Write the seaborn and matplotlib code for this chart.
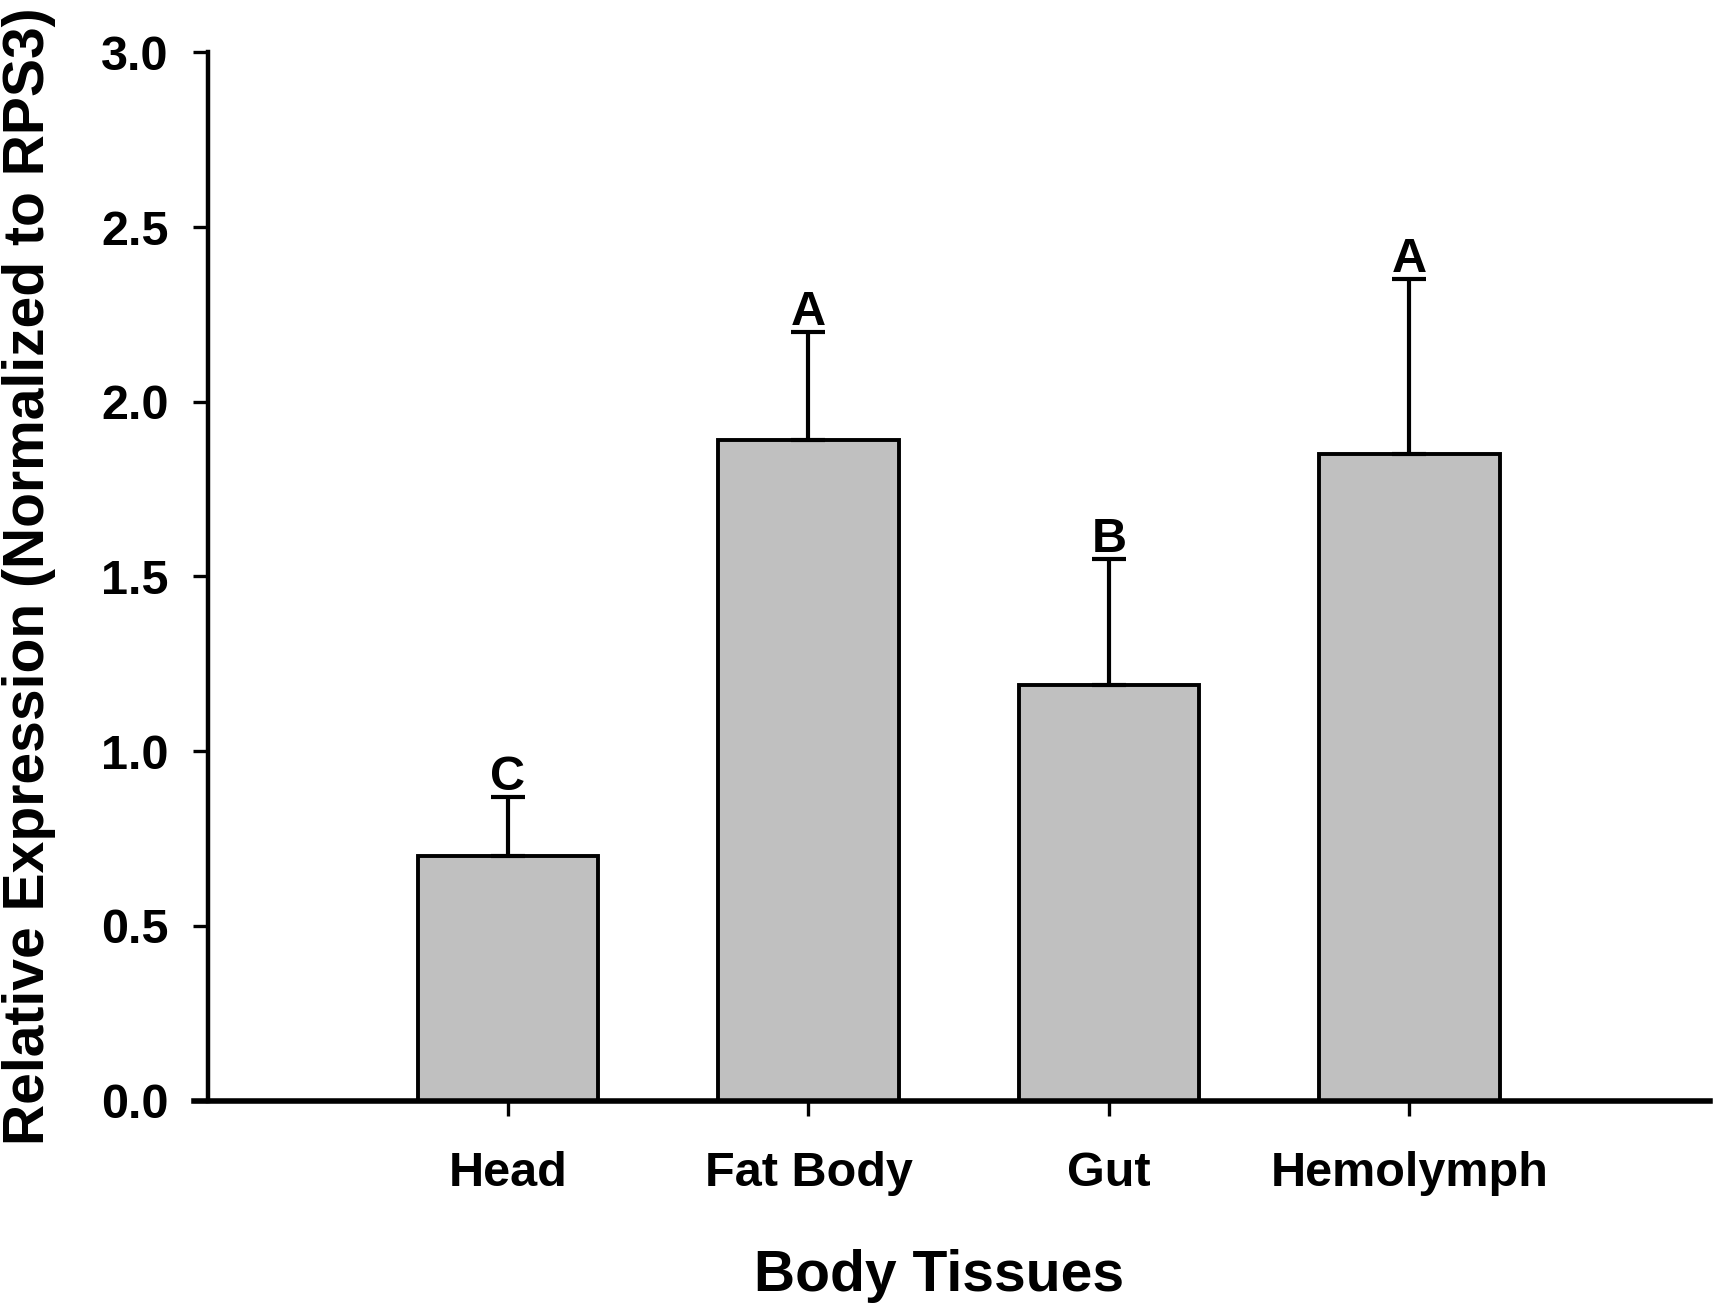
import numpy as np
import seaborn as sns
import matplotlib.pyplot as plt

# values
tissues = ["Head", "Fat Body", "Gut", "Hemolymph"]
expression = [0.70, 1.89, 1.19, 1.85]
upper_err = [0.17, 0.31, 0.36, 0.50]
letters = ["C", "A", "B", "A"]
y_ticks = [0.0, 0.5, 1.0, 1.5, 2.0, 2.5, 3.0]

sns.set_style("ticks")
plt.rcParams["font.family"] = ["Liberation Sans", "DejaVu Sans"]
plt.rcParams["font.weight"] = "bold"
for key in ["text.color", "axes.labelcolor", "xtick.color", "ytick.color", "axes.edgecolor"]:
    plt.rcParams[key] = "black"

fig = plt.figure(figsize=(17.15, 13.08), dpi=100)
ax = fig.add_axes([0.121, 0.1586, 0.876, 0.8014])

sns.barplot(x=tissues, y=expression, color="#c0c0c0", saturation=1,
            edgecolor="black", linewidth=2.8, width=0.6, errorbar=None, ax=ax)

# only the upper half of the error bars is drawn
xpos = np.arange(len(tissues))
ax.errorbar(xpos, expression, yerr=[np.zeros(len(tissues)), upper_err],
            fmt="none", ecolor="black", elinewidth=3, capsize=12, capthick=3)

# significance letters above the caps
for i, (m, e, lab) in enumerate(zip(expression, upper_err, letters)):
    ax.annotate(lab, xy=(i, m + e), xytext=(0, 5), textcoords="offset points",
                ha="center", va="baseline", fontsize=35, fontweight="bold",
                color="black")

ax.set_xlim(-1, 4)
ax.set_ylim(0, 3.0)
ax.set_yticks(y_ticks)
ax.set_yticklabels([f"{t:.1f}" for t in y_ticks])

ax.spines["top"].set_visible(False)
ax.spines["right"].set_visible(False)
ax.spines["left"].set_linewidth(3.2)
ax.spines["bottom"].set_linewidth(4)
ax.spines["bottom"].set_bounds(-1.045, 4)

ax.tick_params(axis="y", length=11, width=2.4, labelsize=35, pad=17, colors="black")
ax.tick_params(axis="x", length=11, width=2.4, labelsize=35, pad=25, colors="black")
for t in ax.get_xticklabels() + ax.get_yticklabels():
    t.set_fontweight("bold")

ax.set_xlabel("Body Tissues", fontsize=41, fontweight="bold", color="black")
ax.set_ylabel("Relative Expression (Normalized to RPS3)", fontsize=41,
              fontweight="bold", color="black")
ax.xaxis.label.set_va("baseline")
ax.xaxis.set_label_coords(0.487, -0.182)
ax.yaxis.label.set_va("center")
ax.yaxis.set_label_coords(-0.1185, 0.5)

fig.savefig("out.png", dpi=100)
